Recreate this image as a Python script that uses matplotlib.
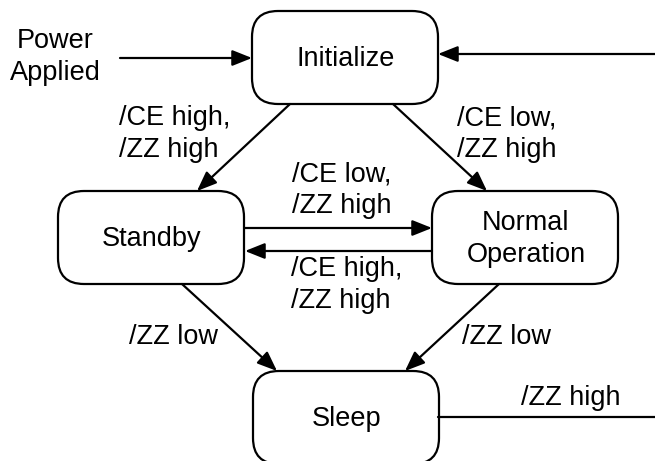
import matplotlib.pyplot as plt
from matplotlib.patches import FancyBboxPatch, FancyArrowPatch

plt.rcParams['font.family'] = ['Liberation Sans', 'DejaVu Sans']

# states and transition labels
states = ['Initialize', 'Standby', 'Normal\nOperation', 'Sleep']
edge_labels = ['/CE high,\n/ZZ high', '/CE low,\n/ZZ high', '/CE low,\n/ZZ high',
               '/CE high,\n/ZZ high', '/ZZ low', '/ZZ low', '/ZZ high']
entry_label = 'Power\nApplied'

# layout (pixels, y down)
box_xy = [(252, 11), (58, 191), (432, 191), (253, 371)]
box_w, box_h, rad = 186, 93, 26
FS = 19.5
LS = 1.3
LW = 1.6

fig = plt.figure(figsize=(6.55, 4.61), dpi=100)
ax = fig.add_axes([0, 0, 1, 1])
ax.set_xlim(0, 655)
ax.set_ylim(461, 0)
ax.axis('off')

for name, (x, y) in zip(states, box_xy):
    ax.add_patch(FancyBboxPatch((x, y), box_w, box_h,
                                boxstyle=f'round,pad=0,rounding_size={rad}',
                                fc='white', ec='black', lw=LW))
    ax.text(x + box_w / 2 + 1, y + box_h / 2 + 1, name, ha='center', va='center',
            fontsize=FS, linespacing=LS)


def arrow(p, q, head=True):
    st = '-|>,head_length=0.75,head_width=0.3' if head else '-'
    ax.add_patch(FancyArrowPatch(p, q, arrowstyle=st, mutation_scale=16,
                                 color='black', lw=LW, shrinkA=0, shrinkB=0))


arrow((120, 58), (252, 58))
arrow((655, 54), (438, 54))
arrow((290, 104), (197, 191))
arrow((393, 104), (487, 191))
arrow((245, 228), (432, 228))
arrow((432, 251), (245, 251))
arrow((182, 284), (277, 371))
arrow((499, 284), (405, 371))
arrow((438, 417), (655, 417), head=False)

ax.text(55, 57, entry_label, ha='center', va='center', fontsize=FS, linespacing=LS)

label_pos = [(119, 134, 'left'), (457, 134, 'left'), (342, 190, 'center'),
             (291, 285, 'left'), (129, 337, 'left'), (462, 337, 'left'),
             (521, 398, 'left')]
for txt, (x, y, ha) in zip(edge_labels, label_pos):
    ax.text(x, y, txt, ha=ha, va='center', fontsize=FS, linespacing=LS)

fig.savefig('out.png', dpi=100)
